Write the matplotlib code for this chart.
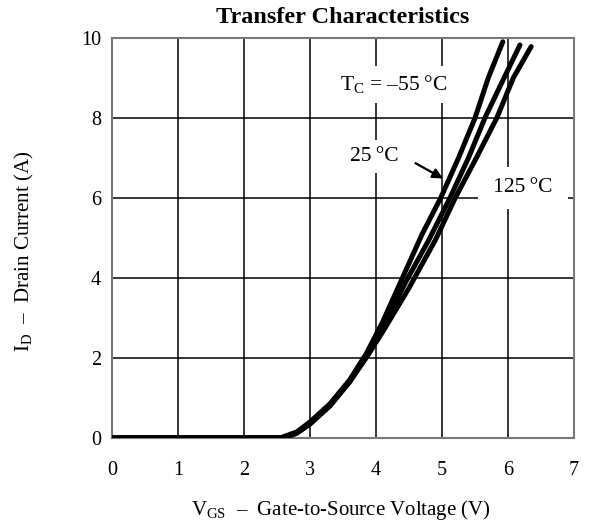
import matplotlib.pyplot as plt

# transfer curves
vgs_m55 = [0, 2.55, 2.8, 3.0, 3.3, 3.6, 3.85, 4.1, 4.4, 4.7, 4.98, 5.25, 5.5, 5.7, 5.92]
id_m55 = [0, 0, 0.15, 0.4, 0.85, 1.45, 2.1, 2.9, 4.0, 5.1, 6.0, 7.0, 8.0, 9.0, 9.9]

vgs_25 = [0, 2.6, 2.8, 3.0, 3.3, 3.6, 3.85, 4.1, 4.45, 4.8, 5.12, 5.4, 5.65, 5.94, 6.18]
id_25 = [0, 0, 0.12, 0.35, 0.8, 1.4, 2.05, 2.75, 3.9, 4.95, 6.0, 7.0, 8.0, 9.0, 9.82]

vgs_125 = [0, 2.62, 2.8, 3.0, 3.3, 3.6, 3.85, 4.1, 4.5, 4.9, 5.2, 5.52, 5.83, 6.08, 6.35]
id_125 = [0, 0, 0.12, 0.35, 0.8, 1.4, 2.0, 2.65, 3.75, 4.95, 6.0, 7.0, 8.0, 9.0, 9.78]

xticks = [0, 1, 2, 3, 4, 5, 6, 7]
yticks = [0, 2, 4, 6, 8, 10]

plt.rcParams["font.family"] = ["Liberation Serif", "DejaVu Serif"]
plt.rcParams["mathtext.fontset"] = "custom"
plt.rcParams["mathtext.rm"] = "Liberation Serif"

fig = plt.figure(figsize=(5.9, 5.25), dpi=100)
ax = fig.add_axes([0.19, 0.166, 0.783, 0.762])

for v, i in [(vgs_m55, id_m55), (vgs_25, id_25), (vgs_125, id_125)]:
    ax.plot(v, i, color="black", lw=3.6, solid_capstyle="round", zorder=3)

ax.set_xlim(0, 7)
ax.set_ylim(0, 10)
ax.set_xticks(xticks)
ax.set_yticks(yticks)
ax.tick_params(length=0, labelsize=14.5)
ax.tick_params(axis="x", pad=17)
ax.tick_params(axis="y", pad=8)
ax.grid(True, color="black", lw=1.1)
ax.set_axisbelow(True)
for s in ax.spines.values():
    s.set_color("#777777")
    s.set_linewidth(1.5)

ax.set_title("Transfer Characteristics", fontsize=17.5, fontweight="bold", pad=11)
ax.set_xlabel("V$_{\\mathrm{GS}}$  –  Gate-to-Source Voltage (V)", fontsize=15)
ax.set_ylabel("I$_{\\mathrm{D}}$  –  Drain Current (A)", fontsize=15)
ax.xaxis.set_label_coords(0.495, -0.18)
ax.xaxis.label.set_va("center")
ax.yaxis.set_label_coords(-0.19, 0.4675)
ax.yaxis.label.set_va("center")

ax.text(4.26, 8.83, "T$_{\\mathrm{C}}$ = –55\u2009°C", fontsize=15.5, ha="center", va="center",
        bbox=dict(facecolor="white", edgecolor="none", pad=5), zorder=2)
ax.text(3.98, 7.03, "25\u2009°C", fontsize=15.5, ha="center", va="center",
        bbox=dict(facecolor="white", edgecolor="none", pad=5), zorder=2)
ax.text(6.23, 6.25, "\u2009125\u2009°C\u2009", fontsize=15.5, ha="center", va="center",
        bbox=dict(facecolor="white", edgecolor="none", pad=8), zorder=2)
ax.annotate("", xy=(5.05, 6.45), xytext=(4.56, 6.9),
            arrowprops=dict(arrowstyle="-|>", color="black", lw=1.6, mutation_scale=15), zorder=4)

fig.savefig("out.png", dpi=100)
